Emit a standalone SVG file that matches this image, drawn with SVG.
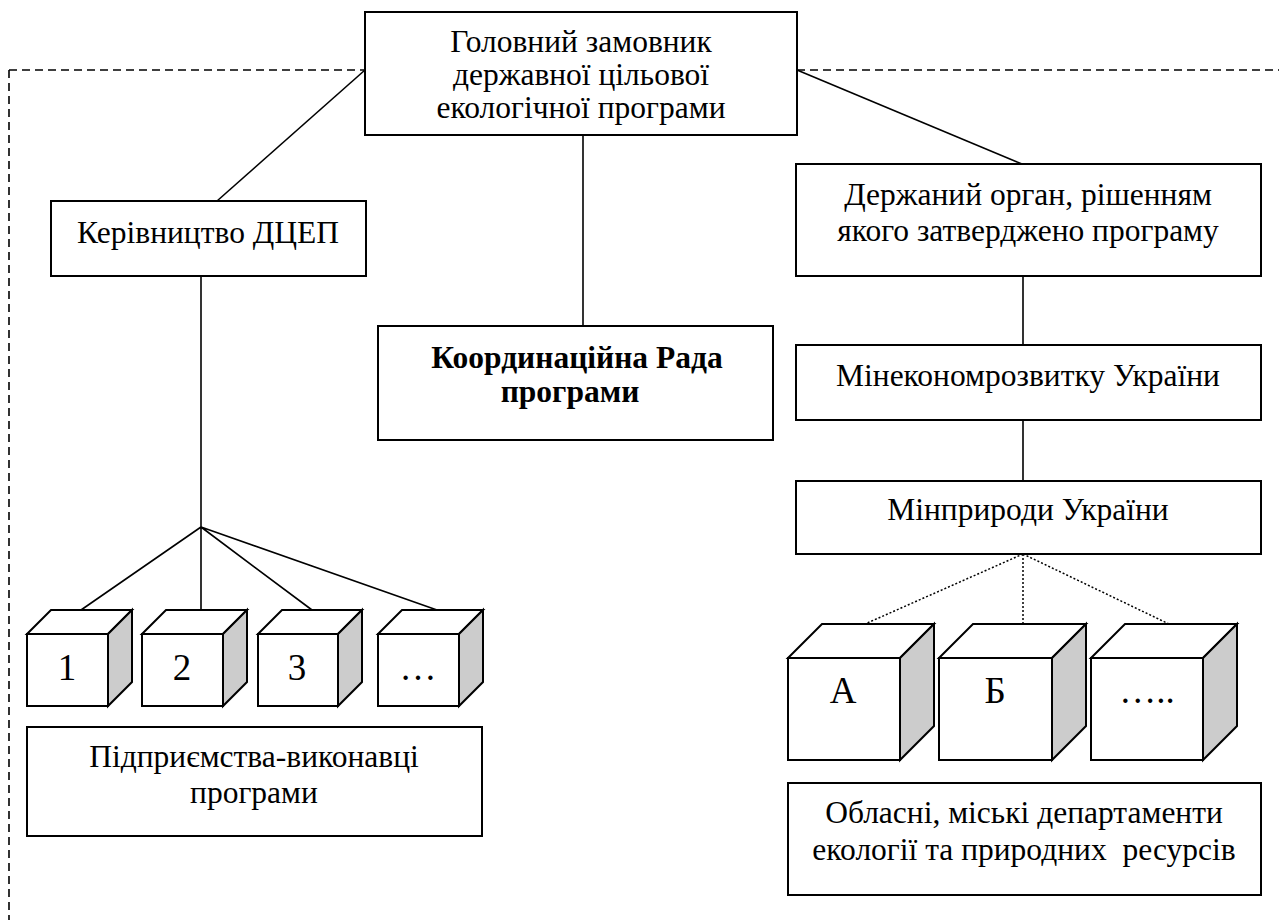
<svg xmlns="http://www.w3.org/2000/svg" width="1279" height="920" viewBox="0 0 1279 920">
<style>
.box{fill:#fff;stroke:#000;stroke-width:2}
.ln{fill:none;stroke:#000;stroke-width:1.6}
.dash{fill:none;stroke:#000;stroke-width:1.6;stroke-dasharray:8 5}
.dot{fill:none;stroke:#000;stroke-width:1.5;stroke-dasharray:2 2}
.cf{fill:#fff;stroke:#000;stroke-width:2;stroke-linejoin:miter}
.cs{fill:#cccccc;stroke:#000;stroke-width:2}
text{font-family:"Liberation Serif","Times New Roman",serif;font-size:31.5px;fill:#000;text-anchor:middle}
.b{font-weight:bold;font-size:31.5px}
.cl{font-size:37px}
</style>
<defs>
<clipPath id="clipTop"><rect x="366" y="13" width="430" height="112"/></clipPath>
</defs>
<g id="connectors">
<path class="dash" d="M9 70H365M797 70H1279M9 70V920"/>
<path class="ln" d="M365 70L217 201"/>
<path class="ln" d="M797 70L1022 164"/>
<path class="ln" d="M583 135V326"/>
<path class="ln" d="M201 276V527"/>
<path class="ln" d="M201 527L81 610M201 527V610M201 527L312 610M201 527L437 610"/>
<path class="ln" d="M1023 276V345M1023 420V481"/>
<path class="dot" d="M1023 554L865 624M1023 554V624M1023 554L1169 624"/>
</g>
<g id="node-main">
<rect class="box" x="365" y="12" width="432" height="123"/>
<g clip-path="url(#clipTop)">
<text x="581" y="52">Головний замовник</text>
<text x="581" y="85">державної цільової</text>
<text x="581" y="118">екологічної програми</text>
</g>
</g>
<g id="node-kerivnytstvo">
<rect class="box" x="51" y="201" width="315" height="75"/>
<text x="208" y="243">Керівництво ДЦЕП</text>
</g>
<g id="node-rada">
<rect class="box" x="378" y="326" width="395" height="114"/>
<text class="b" x="577" y="368">Координаційна Рада</text>
<text class="b" x="570" y="402">програми</text>
</g>
<g id="node-derzh">
<rect class="box" x="796" y="164" width="465" height="112"/>
<text x="1028" y="205">Держаний орган, рішенням</text>
<text x="1028" y="241">якого затверджено програму</text>
</g>
<g id="node-minekonom">
<rect class="box" x="796" y="345" width="465" height="75"/>
<text x="1028" y="386">Мінекономрозвитку України</text>
</g>
<g id="node-minpryrody">
<rect class="box" x="796" y="481" width="465" height="73"/>
<text x="1028" y="520">Мінприроди України</text>
</g>
<g id="cube-1">
<path class="cf" d="M27 634L51 610H132L108 634Z"/>
<path class="cs" d="M108 634L132 610V682L108 706Z"/>
<rect class="cf" x="27" y="634" width="81" height="72"/>
<text class="cl" x="67" y="680">1</text>
</g>
<g id="cube-2">
<path class="cf" d="M142 634L166 610H247L223 634Z"/>
<path class="cs" d="M223 634L247 610V682L223 706Z"/>
<rect class="cf" x="142" y="634" width="81" height="72"/>
<text class="cl" x="182" y="680">2</text>
</g>
<g id="cube-3">
<path class="cf" d="M258 634L282 610H362L338 634Z"/>
<path class="cs" d="M338 634L362 610V682L338 706Z"/>
<rect class="cf" x="258" y="634" width="80" height="72"/>
<text class="cl" x="297" y="680">3</text>
</g>
<g id="cube-4">
<path class="cf" d="M378 634L402 610H483L459 634Z"/>
<path class="cs" d="M459 634L483 610V682L459 706Z"/>
<rect class="cf" x="378" y="634" width="81" height="72"/>
<text class="cl" x="418" y="680">…</text>
</g>
<g id="node-pidpryiemstva">
<rect class="box" x="27" y="727" width="455" height="109"/>
<text x="254" y="767">Підприємства-виконавці</text>
<text x="254" y="803">програми</text>
</g>
<g id="cube-a">
<path class="cf" d="M788 658L822 624H934L900 658Z"/>
<path class="cs" d="M900 658L934 624V726L900 760Z"/>
<rect class="cf" x="788" y="658" width="112" height="102"/>
<text class="cl" x="843" y="703">А</text>
</g>
<g id="cube-b">
<path class="cf" d="M939 658L973 624H1086L1052 658Z"/>
<path class="cs" d="M1052 658L1086 624V726L1052 760Z"/>
<rect class="cf" x="939" y="658" width="113" height="102"/>
<text class="cl" x="995" y="703">Б</text>
</g>
<g id="cube-c">
<path class="cf" d="M1091 658L1125 624H1237L1203 658Z"/>
<path class="cs" d="M1203 658L1237 624V726L1203 760Z"/>
<rect class="cf" x="1091" y="658" width="112" height="102"/>
<text class="cl" x="1147" y="703">…..</text>
</g>
<g id="node-oblasni">
<rect class="box" x="788" y="783" width="473" height="112"/>
<text x="1024" y="823">Обласні, міські департаменти</text>
<text x="1024" y="860" xml:space="preserve">екології та природних  ресурсів</text>
</g>
</svg>
